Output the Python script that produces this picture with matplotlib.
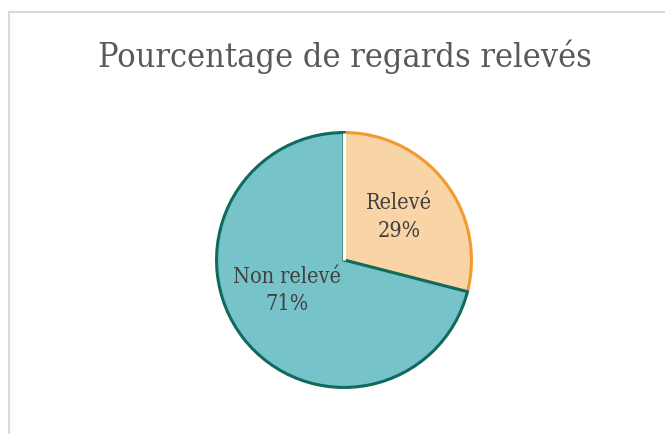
import matplotlib
matplotlib.use("Agg")
import matplotlib.pyplot as plt
from matplotlib.patches import Rectangle
import numpy as np

categories = ["Relevé", "Non relevé"]
values = [29, 71]
fill_colors = ["#F9D4A6", "#76C4CA"]
edge_colors = ["#F29A2E", "#0F6B5D"]
title = "Pourcentage de regards relevés"

W, H = 665, 434
fig = plt.figure(figsize=(W / 100, H / 100), dpi=100)
fig.patch.set_facecolor("white")

fig.add_artist(Rectangle((8.5 / W, -0.1), 1.2, (H - 11.5) / H + 0.1,
                         transform=fig.transFigure, fill=False,
                         edgecolor="#D9D9D9", linewidth=1.5))

cx, cy, r = 344, 260, 130
ax = fig.add_axes([(cx - r) / W, (H - cy - r) / H, 2 * r / W, 2 * r / H])
wedges, texts = ax.pie(values, startangle=90, counterclock=False,
                       colors=fill_colors, radius=1.0,
                       labels=[f"{c}\n{v}%" for c, v in zip(categories, values)],
                       labeldistance=0.55,
                       wedgeprops=dict(linewidth=2.2),
                       textprops=dict(fontsize=15.5, color="#404040",
                                      family="DejaVu Serif", fontstretch="condensed",
                                      ha="center", va="center", linespacing=1.3))
for w, ec in zip(wedges, edge_colors):
    w.set_edgecolor(ec)
    w.set_joinstyle("miter")
# Excel-style placement of the large-slice label (closer to horizontal)
texts[1].set_position((-0.45, -0.24))
ax.plot([0, 0], [0, 1.0], color="white", linewidth=2.2, solid_capstyle="butt")
ax.set_xlim(-1.02, 1.02)
ax.set_ylim(-1.02, 1.02)
ax.set_aspect("equal")
ax.axis("off")

fig.text(345 / W, 1 - 57 / H, title, ha="center", va="center",
         fontsize=24.5, color="#595959", family="DejaVu Serif", fontstretch="condensed")

fig.savefig("out.png", dpi=100)
